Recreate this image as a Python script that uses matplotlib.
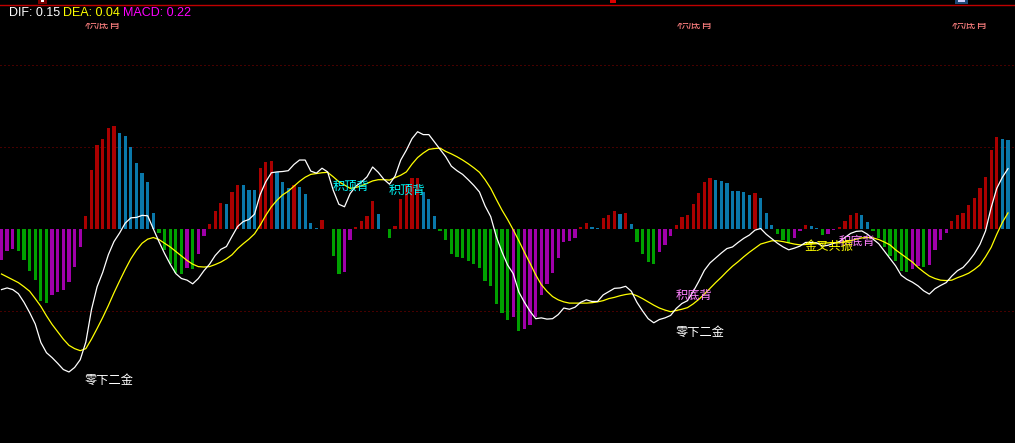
import numpy as np
import matplotlib
matplotlib.use("Agg")
import matplotlib.pyplot as plt
from matplotlib.transforms import Bbox, TransformedBbox
from matplotlib.patches import Rectangle

plt.rcParams['font.family'] = ['Noto Sans CJK SC', 'DejaVu Sans']

# ---- data ----
macd = [
    -0.076, -0.054, -0.049, -0.054, -0.076, -0.102, -0.124, -0.176, -0.180, -0.161,
    -0.154, -0.149, -0.129, -0.093, -0.044, 0.032, 0.144, 0.205, 0.220, 0.246,
    0.251, 0.234, 0.227, 0.200, 0.161, 0.137, 0.115, 0.041, -0.010, -0.051,
    -0.085, -0.107, -0.110, -0.095, -0.098, -0.059, -0.017, 0.012, 0.044, 0.063,
    0.061, 0.090, 0.109, 0.107, 0.096, 0.095, 0.149, 0.165, 0.166, 0.139,
    0.115, 0.100, 0.107, 0.102, 0.085, 0.015, 0.002, 0.022, 0.001, -0.066,
    -0.110, -0.105, -0.027, 0.005, 0.020, 0.032, 0.068, 0.037, 0.001, -0.020,
    0.007, 0.073, 0.107, 0.124, 0.126, 0.090, 0.073, 0.032, -0.005, -0.027,
    -0.059, -0.068, -0.071, -0.078, -0.085, -0.095, -0.127, -0.139, -0.183, -0.205,
    -0.222, -0.215, -0.249, -0.244, -0.234, -0.215, -0.161, -0.134, -0.107, -0.071,
    -0.031, -0.029, -0.020, 0.005, 0.015, 0.005, 0.002, 0.027, 0.034, 0.044,
    0.038, 0.039, 0.012, -0.032, -0.061, -0.080, -0.085, -0.056, -0.039, -0.017,
    0.010, 0.029, 0.034, 0.061, 0.088, 0.115, 0.124, 0.120, 0.117, 0.112,
    0.094, 0.093, 0.090, 0.083, 0.088, 0.076, 0.039, 0.010, -0.012, -0.027,
    -0.034, -0.020, -0.005, 0.010, 0.007, 0.002, -0.013, -0.012, -0.002, 0.005,
    0.020, 0.034, 0.039, 0.034, 0.017, -0.005, -0.020, -0.044, -0.066, -0.078,
    -0.102, -0.104, -0.098, -0.090, -0.093, -0.088, -0.051, -0.027, -0.010, 0.020,
    0.034, 0.039, 0.059, 0.076, 0.100, 0.127, 0.193, 0.224, 0.220, 0.217,
]

dif = [
    -0.147, -0.143, -0.147, -0.157, -0.178, -0.203, -0.231, -0.276, -0.301, -0.313,
    -0.327, -0.342, -0.348, -0.337, -0.318, -0.275, -0.196, -0.140, -0.105, -0.062,
    -0.030, -0.009, 0.015, 0.028, 0.029, 0.034, 0.033, 0.001, -0.030, -0.059,
    -0.085, -0.108, -0.120, -0.124, -0.133, -0.120, -0.101, -0.085, -0.064, -0.049,
    -0.042, -0.017, 0.007, 0.019, 0.024, 0.037, 0.085, 0.116, 0.138, 0.140,
    0.141, 0.143, 0.158, 0.169, 0.169, 0.142, 0.137, 0.149, 0.140, 0.095,
    0.061, 0.055, 0.087, 0.105, 0.115, 0.128, 0.152, 0.139, 0.122, 0.110,
    0.130, 0.169, 0.193, 0.221, 0.238, 0.231, 0.231, 0.213, 0.195, 0.177,
    0.154, 0.143, 0.134, 0.121, 0.107, 0.091, 0.057, 0.031, -0.018, -0.055,
    -0.087, -0.108, -0.153, -0.178, -0.200, -0.218, -0.216, -0.219, -0.218, -0.208,
    -0.192, -0.195, -0.190, -0.178, -0.172, -0.176, -0.176, -0.160, -0.152, -0.144,
    -0.143, -0.139, -0.151, -0.178, -0.199, -0.218, -0.228, -0.220, -0.216, -0.210,
    -0.193, -0.181, -0.174, -0.152, -0.127, -0.100, -0.082, -0.070, -0.058, -0.047,
    -0.043, -0.032, -0.022, -0.014, -0.002, 0.002, -0.012, -0.023, -0.034, -0.043,
    -0.050, -0.046, -0.041, -0.032, -0.032, -0.033, -0.041, -0.039, -0.034, -0.030,
    -0.020, -0.010, -0.005, -0.004, -0.012, -0.024, -0.035, -0.053, -0.071, -0.089,
    -0.112, -0.122, -0.129, -0.138, -0.150, -0.158, -0.145, -0.137, -0.130, -0.114,
    -0.101, -0.093, -0.078, -0.060, -0.037, -0.004, 0.053, 0.100, 0.127, 0.148,
]

dea = [
    -0.109, -0.116, -0.123, -0.130, -0.140, -0.151, -0.169, -0.188, -0.211, -0.232,
    -0.250, -0.268, -0.283, -0.291, -0.296, -0.291, -0.268, -0.242, -0.215, -0.186,
    -0.155, -0.126, -0.098, -0.072, -0.051, -0.034, -0.024, -0.020, -0.025, -0.034,
    -0.043, -0.054, -0.065, -0.076, -0.085, -0.091, -0.092, -0.091, -0.086, -0.080,
    -0.072, -0.062, -0.047, -0.035, -0.024, -0.011, 0.010, 0.034, 0.055, 0.071,
    0.084, 0.093, 0.105, 0.117, 0.127, 0.134, 0.136, 0.138, 0.139, 0.128,
    0.116, 0.108, 0.100, 0.102, 0.106, 0.112, 0.118, 0.121, 0.121, 0.120,
    0.126, 0.132, 0.140, 0.159, 0.175, 0.186, 0.195, 0.197, 0.198, 0.190,
    0.184, 0.177, 0.169, 0.160, 0.150, 0.139, 0.121, 0.100, 0.073, 0.047,
    0.024, -0.001, -0.028, -0.056, -0.083, -0.111, -0.135, -0.151, -0.164, -0.172,
    -0.177, -0.180, -0.180, -0.180, -0.180, -0.179, -0.177, -0.174, -0.169, -0.166,
    -0.162, -0.159, -0.157, -0.162, -0.169, -0.177, -0.185, -0.192, -0.197, -0.201,
    -0.198, -0.195, -0.191, -0.182, -0.171, -0.158, -0.144, -0.130, -0.117, -0.103,
    -0.090, -0.079, -0.067, -0.056, -0.046, -0.036, -0.032, -0.028, -0.028, -0.030,
    -0.033, -0.036, -0.038, -0.037, -0.036, -0.035, -0.034, -0.033, -0.033, -0.033,
    -0.030, -0.028, -0.024, -0.021, -0.020, -0.021, -0.025, -0.031, -0.038, -0.050,
    -0.060, -0.070, -0.080, -0.093, -0.104, -0.114, -0.120, -0.124, -0.125, -0.124,
    -0.118, -0.113, -0.107, -0.098, -0.087, -0.067, -0.044, -0.012, 0.017, 0.040,
]

header_labels = ["DIF: 0.15", "DEA: 0.04", "MACD: 0.22"]
signal_labels = ["零下二金", "零下二金", "积顶背", "积顶背", "积底背", "积底背", "金叉共振"]
clipped_label = "积底背"

# ---- styles ----
RED = '#aa0000'
BLUE = '#0a78aa'
GREEN = '#00a000'
MAGENTA = '#a000aa'

W, H = 1015, 443
fig = plt.figure(figsize=(W / 100, H / 100), dpi=100, facecolor='black')
ax = fig.add_axes([0, 0, 1, 1])
ax.set_facecolor('black')
ax.set_axis_off()

n = len(macd)
x = np.arange(n)

colors = []
prev = macd[0]
for v in macd:
    if v >= 0:
        colors.append(RED if v > prev else BLUE)
    else:
        colors.append(GREEN if v < prev else MAGENTA)
    prev = v

ax.set_xlim(-0.267, 180.24)
ax.set_ylim(-0.5212, 0.5593)

for lvl in (0.4, 0.2, -0.2):
    ax.axhline(lvl, color='#8c0000', lw=0.72, ls=(0, (1, 3)), zorder=1)

ax.bar(x, macd, width=0.58, color=colors, antialiased=False, zorder=2, linewidth=0)
ax.plot(x, dea, color='#ffff00', lw=0.9, zorder=3)
ax.plot(x, dif, color='white', lw=0.9, zorder=4)

# top border line
fig.add_artist(plt.Line2D([0, 1], [1 - 4.5 / H, 1 - 4.5 / H], transform=fig.transFigure,
                          color='#c00000', lw=1.0))

# tiny header fragments at very top
def px_rect(x0, y0, w, h, c):
    fig.add_artist(Rectangle((x0 / W, 1 - (y0 + h) / H), w / W, h / H,
                             transform=fig.transFigure, color=c, lw=0))

px_rect(38, 0, 9, 3.5, '#7a0000')
px_rect(41, 0, 3, 2, 'white')
px_rect(610, 0, 6, 3, '#e00000')
px_rect(955, 0, 13, 3.5, '#1c4a78')
px_rect(958, 0, 7, 2, '#d0d0ff')


def fx(px):
    return px / W


def fy(py):
    return 1 - py / H


# header texts
hx = [9, 63, 123]
hc = ['white', '#ffff00', '#ff00ff']
for t, xx, c in zip(header_labels, hx, hc):
    fig.text(fx(xx), fy(12.5), t, color=c, fontsize=9, family='Liberation Sans',
             va='center', ha='left')

# signal labels
pos = [(85, 380), (676, 332), (333, 186), (389, 190), (676, 295), (839, 241), (805, 246)]
cols = ['white', 'white', '#00ffff', '#00ffff', '#ff80ff', '#ff80ff', '#ffff00']
for t, (xx, yy), c in zip(signal_labels, pos, cols):
    fig.text(fx(xx), fy(yy), t, color=c, fontsize=8.8, va='center', ha='left', zorder=6)

# clipped labels at top
clipbox = TransformedBbox(Bbox([[0, 0], [1, 1 - 22.5 / H]]), fig.transFigure)
for xx in (85, 677, 952):
    t = fig.text(fx(xx), fy(24.5), clipped_label, color='#ff8080', fontsize=8.8,
                 va='center', ha='left')
    t.set_clip_on(True)
    t.set_clip_box(clipbox)

fig.savefig('out.png', dpi=100, facecolor='black')
